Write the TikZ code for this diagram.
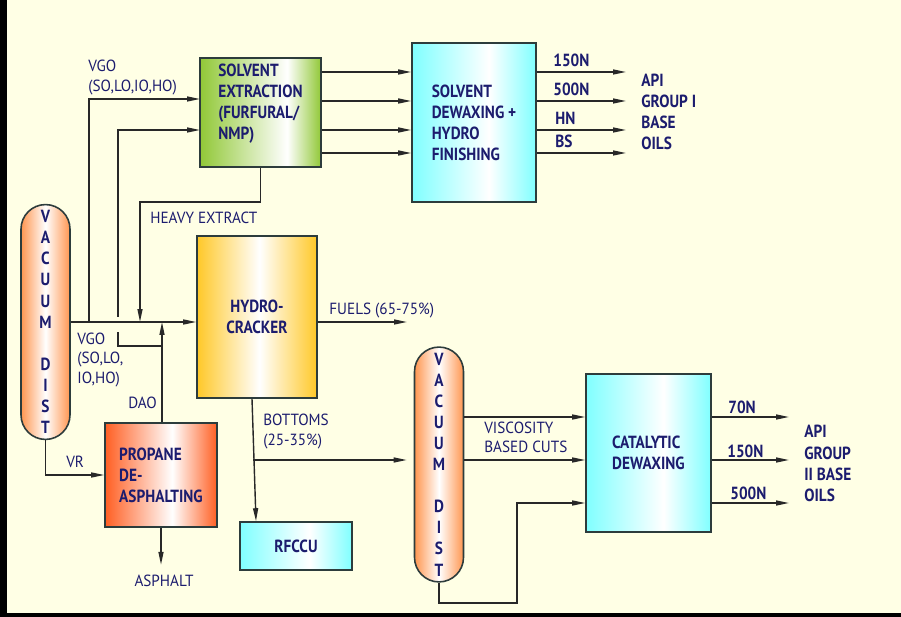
\documentclass[tikz,border=0pt]{standalone}
\usepackage{fontspec}
\setmainfont{PT Sans}[UprightFeatures={FakeStretch=0.94}, BoldFeatures={FakeStretch=0.87}]
\usetikzlibrary{arrows.meta}
\definecolor{paper}{RGB}{255,255,229}
\definecolor{ink}{RGB}{28,28,110}
\definecolor{pipec}{RGB}{40,40,40}
\definecolor{rim}{RGB}{45,60,60}
\definecolor{sxgreen}{RGB}{145,200,55}
\definecolor{dwcyan}{RGB}{128,255,255}
\definecolor{hcyellow}{RGB}{255,200,40}
\definecolor{pdred}{RGB}{255,95,35}
\definecolor{vdorange}{RGB}{255,150,80}
\pgfdeclarehorizontalshading{greensh}{100bp}{color(0bp)=(sxgreen); color(25bp)=(sxgreen); color(61bp)=(white); color(75bp)=(sxgreen); color(100bp)=(sxgreen)}
\pgfdeclarehorizontalshading{cyansh}{100bp}{color(0bp)=(dwcyan); color(25bp)=(dwcyan); color(56bp)=(white); color(75bp)=(dwcyan); color(100bp)=(dwcyan)}
\pgfdeclarehorizontalshading{yellowsh}{100bp}{color(0bp)=(hcyellow); color(25bp)=(hcyellow); color(51bp)=(white); color(75bp)=(hcyellow); color(100bp)=(hcyellow)}
\pgfdeclarehorizontalshading{redsh}{100bp}{color(0bp)=(pdred); color(25bp)=(pdred); color(55bp)=(white); color(75bp)=(pdred); color(100bp)=(pdred)}
\pgfdeclarehorizontalshading{orangesh}{100bp}{color(0bp)=(vdorange); color(25bp)=(vdorange); color(50bp)=(white); color(75bp)=(vdorange); color(100bp)=(vdorange)}
\tikzset{
  unit/.style={draw=rim, line width=0.9pt, text=ink, font=\bfseries, align=left, shade},
  column/.style={unit, shading=orangesh, rounded corners=0.49cm, minimum width=0.98cm, align=center},
  lbl/.style={text=ink, inner sep=0pt, align=left, anchor=west},
  cut/.style={lbl, font=\bfseries},
  flow/.style={draw=pipec, line width=0.8pt},
  feed/.style={flow, -{Triangle[length=2.6mm,width=1mm]}}
}
\begin{document}
\begin{tikzpicture}[x=0.02cm, y=-0.02cm, font=\fontsize{9.2}{11}\selectfont]
\fill[black] (0,0) rectangle (901,617);
\fill[paper] (7,0) rectangle (901,613);
\useasboundingbox (0,0) rectangle (901,617);
\path node[unit, shading=greensh, minimum width=2.42cm, minimum height=2.18cm] (se) at (260.5,112.5) {SOLVENT\\EXTRACTION\\(FURFURAL/\\NMP)\\~}
node[unit, shading=cyansh, minimum width=2.48cm, minimum height=3.18cm] (sd) at (474,122.5) {SOLVENT\\DEWAXING +\\HYDRO\\FINISHING}
node[unit, shading=yellowsh, align=center, minimum width=2.40cm, minimum height=3.24cm] (hc) at (257,317) {HYDRO-\\CRACKER}
node[unit, shading=redsh, minimum width=2.24cm, minimum height=2.08cm] (pda) at (161,475) {PROPANE\\DE-\\ASPHALTING}
node[unit, shading=cyansh, align=center, minimum width=2.24cm, minimum height=0.96cm] (rf) at (296,546) {RFCCU}
node[unit, shading=cyansh, minimum width=2.50cm, minimum height=3.16cm] (cd) at (648.5,453) {CATALYTIC\\DEWAXING}
node[column, minimum height=4.30cm] (vd1) at (45.5,322) {V\\A\\C\\U\\U\\M\\~\\D\\I\\S\\T}
node[column, minimum height=4.26cm] (vd2) at (439,464.5) {V\\A\\C\\U\\U\\M\\~\\D\\I\\S\\T}
node[lbl] (vgo1) at (88,77.5) {VGO\\(SO,LO,IO,HO)}
node[lbl] (vgo2) at (77,360) {VGO\\(SO,LO,\\IO,HO)}
node[lbl] (daol) at (128,403) {DAO}
node[lbl] (hxl) at (150,218) {HEAVY EXTRACT}
node[lbl] (fuels) at (329,311) {FUELS (65-75\%)}
node[lbl] (btms) at (263,431.5) {BOTTOMS\\(25-35\%)}
node[lbl] (vbc) at (484,437.5) {VISCOSITY\\BASED CUTS}
node[lbl] (vr) at (66,462) {VR}
node[lbl, anchor=center] (asph) at (164,581) {ASPHALT}
node[cut] (c150a) at (553,60) {150N}
node[cut] (c500a) at (553,89) {500N}
node[cut] (chn) at (555,118) {HN}
node[cut] (cbs) at (555,141) {BS}
node[cut] (grp1) at (641,112) {API\\GROUP I\\BASE\\OILS}
node[cut] (c70) at (728,407) {70N}
node[cut] (c150b) at (727,451) {150N}
node[cut] (c500b) at (730,493) {500N}
node[cut] (grp2) at (804,463.5) {API\\GROUP\\II BASE\\OILS}
coordinate (vgo) at (89,322)
coordinate (sein1) at (200,99)
coordinate (dao) at (162,346)
coordinate (daotip) at (162,322)
coordinate (hopa) at (118,332)
coordinate (hopb) at (118,317)
coordinate (sein2) at (200,130)
coordinate (hxbend) at (140,202)
coordinate (hxtip) at (140,322)
coordinate (fuelsend) at (407,322)
coordinate (btmj) at (253,460)
coordinate (vdbend) at (517,603)
;
\draw[feed] (vd1.east) -- (hc.west |- vd1.east);
\draw[feed] (vgo) |- (sein1);
\draw[feed] (pda.north -| dao) -- (daotip);
\draw[flow] (dao) -| (hopa);
\draw[feed] (hopb) |- (sein2);
\draw[feed] (se.south) |- (hxbend) -- (hxtip);
\foreach \y in {72,101,130,153} \draw[feed] (se.east |- 0,\y) -- (sd.west |- 0,\y);
\foreach \y in {72,101,130,153} \draw[feed, shorten >=0.3cm] (sd.east |- 0,\y) -- (grp1.west |- 0,\y);
\draw[feed] (hc.east |- vd1.east) -- (fuelsend);
\draw[feed] ([xshift=-0.1cm]hc.south) -- ([xshift=-0.8cm]rf.north);
\draw[feed, shorten >=0.14cm] (btmj) -- (vd2.west |- btmj);
\draw[feed] (vd1.south) |- (pda.west);
\draw[feed, shorten >=0.2cm] (pda.south) -- (pda.south |- asph.north);
\foreach \y in {417,460} \draw[feed] (vd2.east |- 0,\y) -- (cd.west |- 0,\y);
\draw[feed] (vd2.south) |- (vdbend) |- (cd.west |- 0,503);
\foreach \y in {417,460,503} \draw[feed, shorten >=0.3cm] (cd.east |- 0,\y) -- (grp2.west |- 0,\y);
\end{tikzpicture}
\end{document}
